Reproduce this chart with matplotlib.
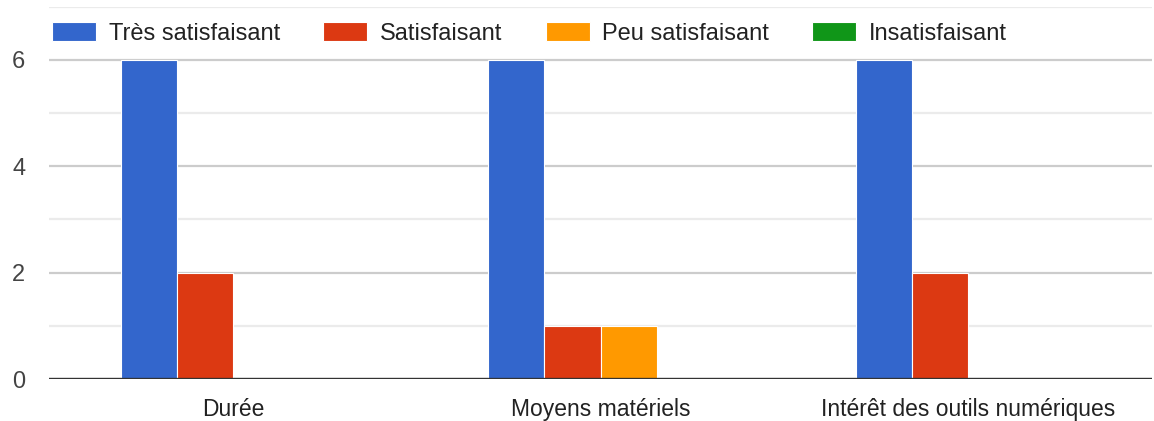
"""Google-Forms style grouped bar chart: satisfaction per criterion."""

import numpy as np
import matplotlib
matplotlib.use("Agg")
import matplotlib.pyplot as plt

plt.rcParams["font.family"] = ["Liberation Sans", "DejaVu Sans"]

CATEGORIES = ["Durée", "Moyens matériels", "Intérêt des outils numériques"]
SERIES = ["Très satisfaisant", "Satisfaisant", "Peu satisfaisant", "Insatisfaisant"]
VALUES = {
    "Très satisfaisant": [6, 6, 6],
    "Satisfaisant": [2, 1, 2],
    "Peu satisfaisant": [0, 1, 0],
    "Insatisfaisant": [0, 0, 0],
}
COLORS = ["#3366cc", "#dc3912", "#ff9900", "#109618"]
Y_TICKS = [0, 2, 4, 6]


def main():
    fig = plt.figure(figsize=(11.54, 4.21), dpi=100)
    ax = fig.add_axes([49 / 1154, 42 / 421, 1103 / 1154, 372.4 / 421])

    x = np.arange(len(CATEGORIES))
    w = 0.1526
    for i, (name, color) in enumerate(zip(SERIES, COLORS)):
        ax.bar(x + (i - 1.5) * w, VALUES[name], width=w, color=color,
               edgecolor="white", linewidth=0.8, label=name, zorder=3)

    # gridlines: darker on labelled values, light in between
    for v in range(0, 8):
        col = "#cccccc" if v % 2 == 0 else "#ebebeb"
        ax.axhline(v, color=col, lw=1.6, zorder=1)
    ax.axhline(0, color="#333333", lw=2.4, zorder=5)

    ax.set_xlim(-0.5, len(CATEGORIES) - 0.5)
    ax.set_ylim(0, 7)
    ax.set_yticks(Y_TICKS)
    ax.set_yticklabels([str(t) for t in Y_TICKS], fontsize=17, color="#444444")
    ax.set_xticks(x)
    ax.set_xticklabels(CATEGORIES, fontsize=16.5, color="#222222")
    ax.tick_params(length=0)
    ax.tick_params(axis="y", pad=17)
    ax.tick_params(axis="x", pad=14)
    for s in ax.spines.values():
        s.set_visible(False)

    leg = ax.legend(loc="upper left", bbox_to_anchor=(-0.011, 1.0), ncol=4,
                    frameon=False, fontsize=17, handlelength=1.86, handleheight=0.89,
                    handletextpad=0.55, columnspacing=1.82, borderaxespad=0.25)
    for t in leg.get_texts():
        t.set_color("#222222")

    fig.savefig("out.png", dpi=100)
    plt.close(fig)


if __name__ == "__main__":
    main()
